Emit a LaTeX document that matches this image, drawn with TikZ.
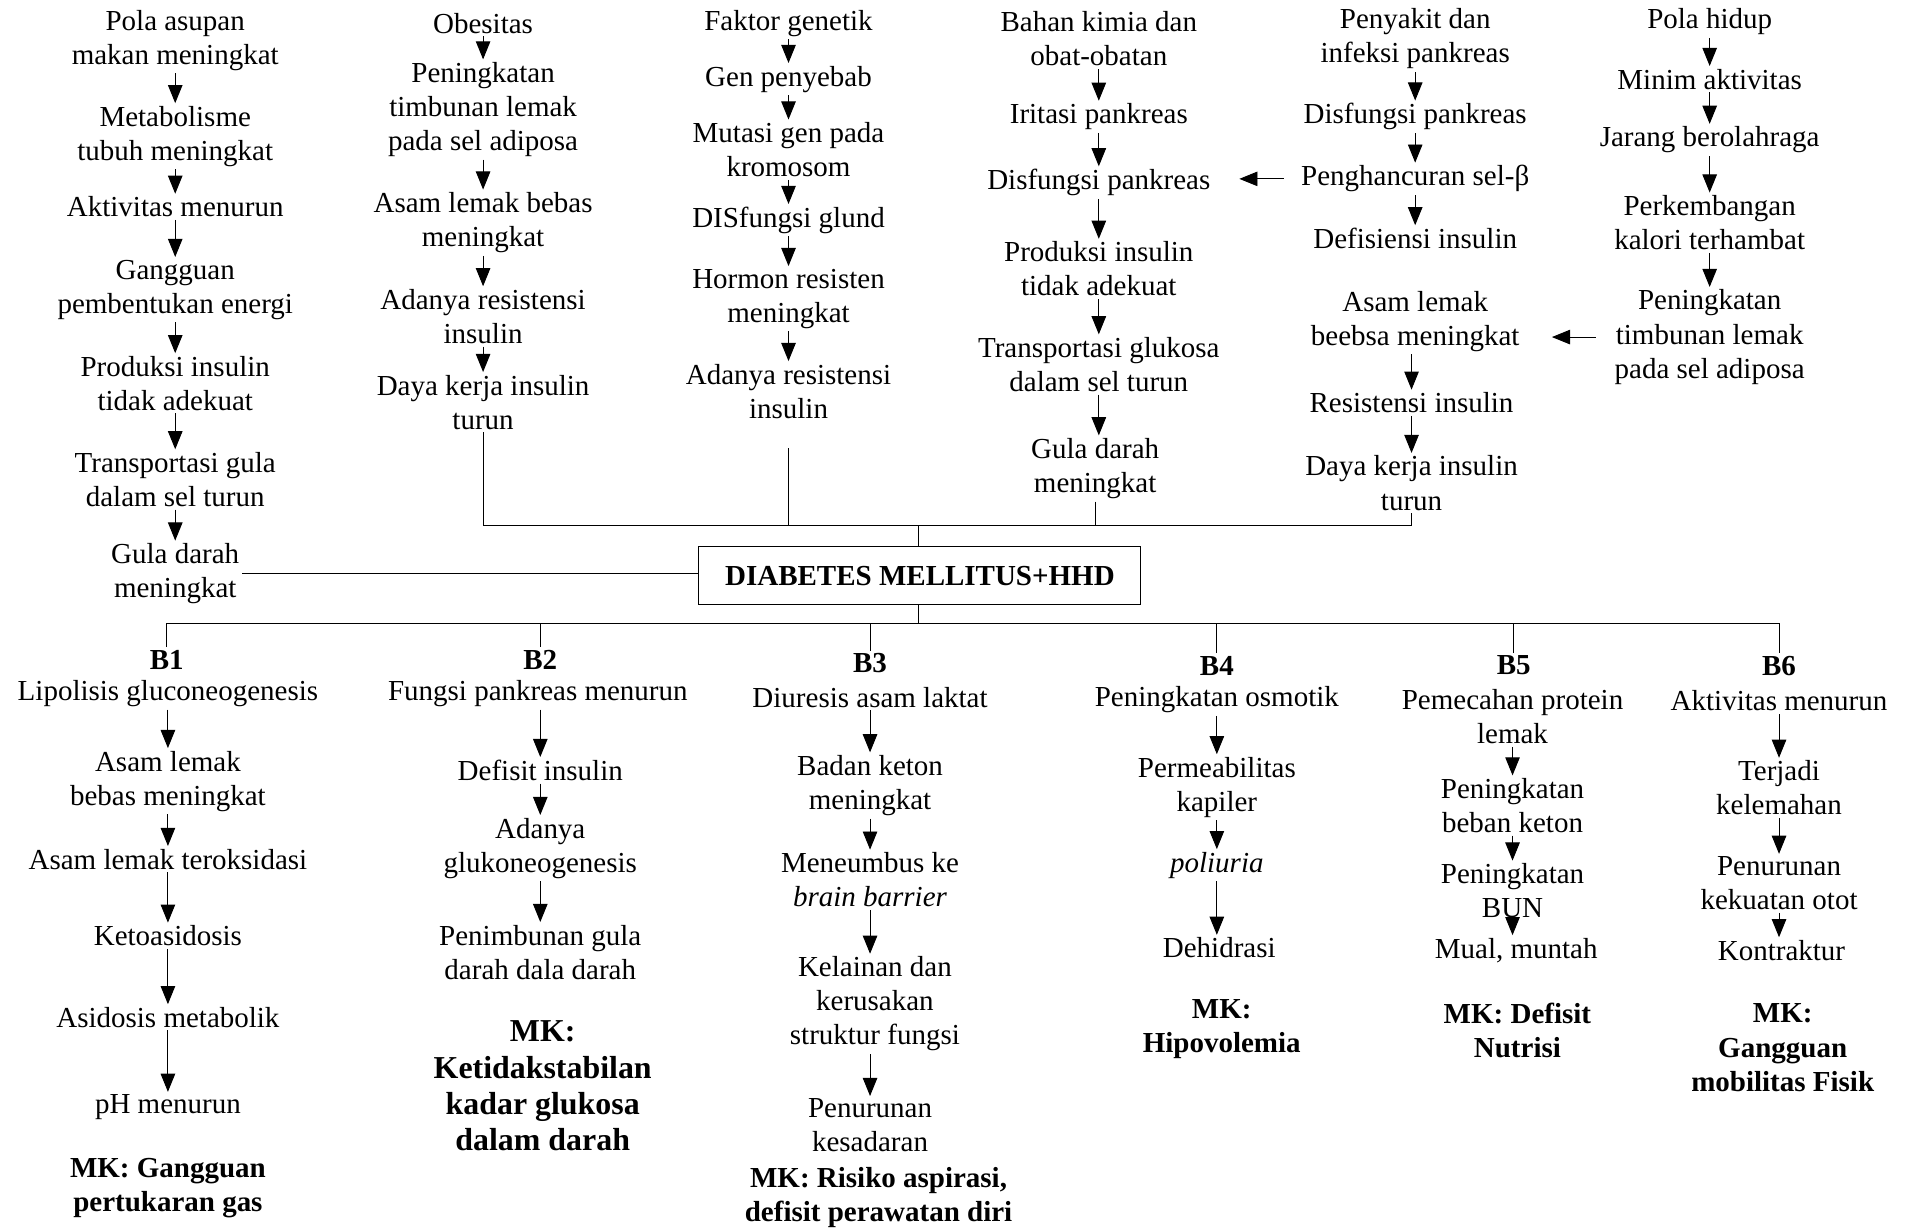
\documentclass[tikz,border=0pt]{standalone}
\usepackage{fontspec}
\setmainfont{Liberation Serif}
\usetikzlibrary{arrows.meta}

\begin{document}
\begin{tikzpicture}[x=0.0177cm, y=-0.0177cm,
        item/.style={font=\fontsize{12}{14.1}\selectfont, align=center, inner sep=1pt},
        bhead/.style={item, font=\fontsize{12}{14.1}\selectfont\bfseries},
        mk/.style={item, font=\fontsize{12}{14.1}\selectfont\bfseries},
        mkbig/.style={item, font=\fontsize{13.2}{15}\selectfont\bfseries},
        mainbox/.style={draw, thin, font=\fontsize{12}{14.1}\selectfont\bfseries, minimum width=6.43cm, minimum height=0.85cm},
        arr/.style={thin, -{Triangle[length=7.5pt, width=6pt]}},
        link/.style={thin}]

    \useasboundingbox (0,0) rectangle (1568,1010);

    % Column 1
    \node[item] (t1a) at (144,33) {Pola asupan\\makan meningkat};
    \node[item] (t1b) at (144,112) {Metabolisme\\tubuh meningkat};
    \node[item] (t1c) at (144,170) {Aktivitas menurun};
    \node[item] (t1d) at (144,238) {Gangguan\\pembentukan energi};
    \node[item] (t1e) at (144,315) {Produksi insulin\\tidak adekuat};
    \node[item] (t1f) at (144,394) {Transportasi gula\\dalam sel turun};
    \node[item] (t1g) at (144,471.5) {Gula darah\\meningkat};
    \draw[arr] (t1a) -- (t1b);
    \draw[arr] (t1b) -- (t1c);
    \draw[arr] (t1c) -- (t1d);
    \draw[arr] (t1d) -- (t1e);
    \draw[arr] (t1e) -- (t1f);
    \draw[arr] (t1f) -- (t1g);

    % Column 2
    \node[item] (t2a) at (397,19) {Obesitas};
    \node[item] (t2b) at (397,90) {Peningkatan\\timbunan lemak\\pada sel adiposa};
    \node[item] (t2c) at (397,183) {Asam lemak bebas\\meningkat};
    \node[item] (t2d) at (397,260) {Adanya resistensi\\insulin};
    \node[item] (t2e) at (397,330.5) {Daya kerja insulin\\turun};
    \draw[arr] (t2a) -- (t2b);
    \draw[arr] (t2b) -- (t2c);
    \draw[arr] (t2c) -- (t2d);
    \draw[arr] (t2d) -- (t2e);

    % Column 3
    \node[item] (t3a) at (648,19) {Faktor genetik};
    \node[item] (t3b) at (648,65) {Gen penyebab};
    \node[item] (t3c) at (648,123) {Mutasi gen pada\\kromosom};
    \node[item] (t3d) at (648,181) {DISfungsi glund};
    \node[item] (t3e) at (648,245.5) {Hormon resisten\\meningkat};
    \node[item] (t3f) at (648,321.5) {Adanya resistensi\\insulin};
    \draw[arr] (t3a) -- (t3b);
    \draw[arr] (t3b) -- (t3c);
    \draw[arr] (t3c) -- (t3d);
    \draw[arr] (t3d) -- (t3e);
    \draw[arr] (t3e) -- (t3f);

    % Column 4
    \node[item] (t4a) at (903,32) {Bahan kimia dan\\obat-obatan};
    \node[item] (t4b) at (903,96) {Iritasi pankreas};
    \node[item] (t4c) at (903,150) {Disfungsi pankreas};
    \node[item] (t4d) at (903,221) {Produksi insulin\\tidak adekuat};
    \node[item] (t4e) at (903,299.5) {Transportasi glukosa\\dalam sel turun};
    \node[item] (t4f) at (900,385) {Gula darah\\meningkat};
    \draw[arr] (t4a) -- (t4b);
    \draw[arr] (t4b) -- (t4c);
    \draw[arr] (t4c) -- (t4d);
    \draw[arr] (t4d) -- (t4e);
    \draw[arr] (t4e) -- (t4e |- t4f.north);

    % Column 5
    \node[item] (t5a) at (1163,32) {Penyakit dan\\infeksi pankreas};
    \node[item] (t5b) at (1163,96) {Disfungsi pankreas};
    \node[item] (t5c) at (1163,147) {Penghancuran sel-β};
    \node[item] (t5d) at (1163,196) {Defisiensi insulin};
    \node[item] (t5e) at (1163,264) {Asam lemak\\beebsa meningkat};
    \node[item] (t5f) at (1160,331) {Resistensi insulin};
    \node[item] (t5g) at (1160,397) {Daya kerja insulin\\turun};
    \draw[arr] (t5a) -- (t5b);
    \draw[arr] (t5b) -- (t5c);
    \draw[arr] (t5c) -- (t5d);
    \draw[arr] (t5e.south -| t5f) -- (t5f);
    \draw[arr] (t5f) -- (t5g);
    \draw[arr, shorten <=0.21cm, shorten >=0.38cm] (t5c.west) -- (t5c.west -| t4c.east);

    % Column 6
    \node[item] (t6a) at (1405,18) {Pola hidup};
    \node[item] (t6b) at (1405,65) {Minim aktivitas};
    \node[item] (t6c) at (1405,115) {Jarang berolahraga};
    \node[item] (t6d) at (1405,183) {Perkembangan\\kalori terhambat};
    \node[item] (t6e) at (1405,277) {Peningkatan\\timbunan lemak\\pada sel adiposa};
    \draw[arr] (t6a) -- (t6b);
    \draw[arr] (t6b) -- (t6c);
    \draw[arr] (t6c) -- (t6d);
    \draw[arr] (t6d) -- (t6e);
    \draw[arr, shorten <=0.23cm, shorten >=0.43cm] (t6e.west) -- (t6e.west -| t5e.east);

    % Main box and joining lines
    \node[mainbox] (dm) at (756,473) {DIABETES MELLITUS+HHD};
    \coordinate (tbar) at (755,432);
    \coordinate (bbar) at (755,512);
    \draw[link] (t2e.south) -- (t2e.south |- tbar) -- (t5g.south |- tbar) -- (t5g.south);
    \draw[link] (t3f.south) ++(0,22) -- (t3f.south |- tbar);
    \draw[link] (t4f.south) -- (t4f.south |- tbar);
    \draw[link] (tbar) -- (tbar |- dm.north);
    \draw[link] (t1g.east) -- (t1g.east -| dm.west);
    \draw[link] (dm.south -| bbar) -- (bbar);

    % Bottom headings
    \node[bhead] (bl1) at (137,542) {B1};
    \node[bhead] (bl2) at (444,542) {B2};
    \node[bhead] (bl3) at (715,545) {B3};
    \node[bhead] (bl4) at (1000,547) {B4};
    \node[bhead] (bl5) at (1244,547) {B5};
    \node[bhead] (bl6) at (1462,547) {B6};
    \draw[link] (bl1.north |- bbar) -- (bl6.north |- bbar);
    \draw[link] (bl1.north) -- (bl1.north |- bbar);
    \draw[link] (bl2.north) -- (bl2.north |- bbar);
    \draw[link] (bl3.north) -- (bl3.north |- bbar);
    \draw[link] (bl4.north) -- (bl4.north |- bbar);
    \draw[link] (bl5.north) -- (bl5.north |- bbar);
    \draw[link] (bl6.north) -- (bl6.north |- bbar);

    % B1
    \node[item] (b1a) at (138,570) {Lipolisis gluconeogenesis};
    \node[item] (b1b) at (138,642) {Asam lemak\\bebas meningkat};
    \node[item] (b1c) at (138,706) {Asam lemak teroksidasi};
    \node[item] (b1d) at (138,769) {Ketoasidosis};
    \node[item] (b1e) at (138,836) {Asidosis metabolik};
    \node[item] (b1f) at (138,910) {pH menurun};
    \node[mk] (mk1) at (138,976) {MK: Gangguan\\pertukaran gas};
    \draw[arr] (b1a) -- (b1b);
    \draw[arr] (b1b) -- (b1c);
    \draw[arr] (b1c) -- (b1d);
    \draw[arr] (b1d) -- (b1e);
    \draw[arr] (b1e) -- (b1f);

    % B2
    \node[item] (b2a) at (442,570) {Fungsi pankreas menurun};
    \node[item] (b2b) at (444,633) {Defisit insulin};
    \node[item] (b2c) at (444,697) {Adanya\\glukoneogenesis};
    \node[item] (b2d) at (444,782.5) {Penimbunan gula\\darah dala darah};
    \node[mkbig] (mk2) at (446,892.5) {MK:\\Ketidakstabilan\\kadar glukosa\\dalam darah};
    \draw[arr] (b2a.south -| b2b) -- (b2b);
    \draw[arr] (b2b) -- (b2c);
    \draw[arr] (b2c) -- (b2d);

    % B3
    \node[item] (b3a) at (715,573) {Diuresis asam laktat};
    \node[item] (b3b) at (715,645.5) {Badan keton\\meningkat};
    \node[item] (b3c) at (715,723) {Meneumbus ke\\\textit{brain barrier}};
    \node[item] (b3d) at (719,825) {Kelainan dan\\kerusakan\\struktur fungsi};
    \node[item] (b3e) at (715,925) {Penurunan\\kesadaran};
    \node[mk] (mk3) at (722,984) {MK: Risiko aspirasi,\\defisit perawatan diri};
    \draw[arr] (b3a) -- (b3b);
    \draw[arr] (b3b) -- (b3c);
    \draw[arr] (b3c) -- (b3c |- b3d.north);
    \draw[arr] (b3d.south -| b3e) -- (b3e);

    % B4
    \node[item] (b4a) at (1000,575) {Peningkatan osmotik};
    \node[item] (b4b) at (1000,647) {Permeabilitas\\kapiler};
    \node[item] (b4c) at (1000,711) {\textit{poliuria}};
    \node[item] (b4d) at (1002,779) {Dehidrasi};
    \node[mk] (mk4) at (1004,846) {MK:\\Hipovolemia};
    \draw[arr] (b4a) -- (b4b);
    \draw[arr] (b4b) -- (b4c);
    \draw[arr] (b4c) -- (b4c |- b4d.north);

    % B5
    \node[item] (b5a) at (1243,589) {Pemecahan protein\\lemak};
    \node[item] (b5b) at (1243,662) {Peningkatan\\beban keton};
    \node[item] (b5c) at (1243,732) {Peningkatan\\BUN};
    \node[item] (b5d) at (1246,781) {Mual, muntah};
    \node[mk] (mk5) at (1247,847) {MK: Defisit\\Nutrisi};
    \draw[arr] (b5a) -- (b5b);
    \draw[arr] (b5b) -- (b5c);
    \draw[arr] (b5c) -- (b5c |- b5d.north);

    % B6
    \node[item] (b6a) at (1462,576) {Aktivitas menurun};
    \node[item] (b6b) at (1462,647.5) {Terjadi\\kelemahan};
    \node[item] (b6c) at (1462,726) {Penurunan\\kekuatan otot};
    \node[item] (b6d) at (1464,781) {Kontraktur};
    \node[mk] (mk6) at (1465,861) {MK:\\Gangguan\\mobilitas Fisik};
    \draw[arr] (b6a) -- (b6b);
    \draw[arr] (b6b) -- (b6c);
    \draw[arr] (b6c) -- (b6c |- b6d.north);
\end{tikzpicture}
\end{document}
